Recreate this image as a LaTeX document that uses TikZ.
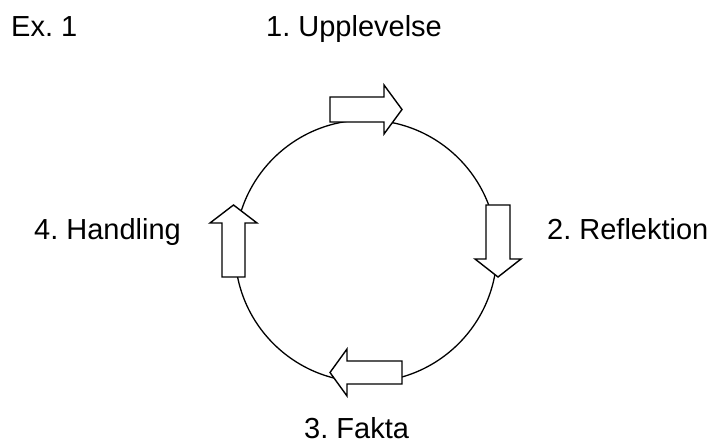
\documentclass[tikz,border=0pt]{standalone}
\usepackage{fontspec}
\setmainfont{Liberation Sans}
\frenchspacing
\begin{document}
\begin{tikzpicture}[x=1pt,y=-1pt,
  lbl/.style={anchor=base west,inner sep=0pt,font=\fontsize{29}{34}\selectfont},
  blockarrow/.style={draw=black,fill=white,line width=1.4pt,line join=miter},
  ring/.style={draw=black,line width=1.3pt}]
\useasboundingbox (0,0) rectangle (712,443);
\coordinate (c) at (366,251);
\draw[ring] (c) circle[radius=131pt];
% arrows
\draw[blockarrow] (330,97) -- (384,97) -- (384,85) -- (402,109.5) -- (384,134) -- (384,122) -- (330,122) -- cycle;
\draw[blockarrow] (486,205) -- (510,205) -- (510,259) -- (521,259) -- (498,277) -- (475,259) -- (486,259) -- cycle;
\draw[blockarrow] (402,361) -- (347,361) -- (347,349) -- (330,372.5) -- (347,396) -- (347,384) -- (402,384) -- cycle;
\draw[blockarrow] (222,277) -- (222,223) -- (210,223) -- (233.5,205) -- (257,223) -- (245,223) -- (245,277) -- cycle;
% labels
\node[lbl] (ex) at (11,37) {\frenchspacing Ex. 1};
\node[lbl] (l1) at (266,37) {\frenchspacing 1. Upplevelse};
\node[lbl] (l2) at (547,240) {\frenchspacing 2. Reflektion};
\node[lbl] (l3) at (304,438.5) {\frenchspacing 3. Fakta};
\node[lbl] (l4) at (34,240) {\frenchspacing 4. Handling};
\end{tikzpicture}
\end{document}
